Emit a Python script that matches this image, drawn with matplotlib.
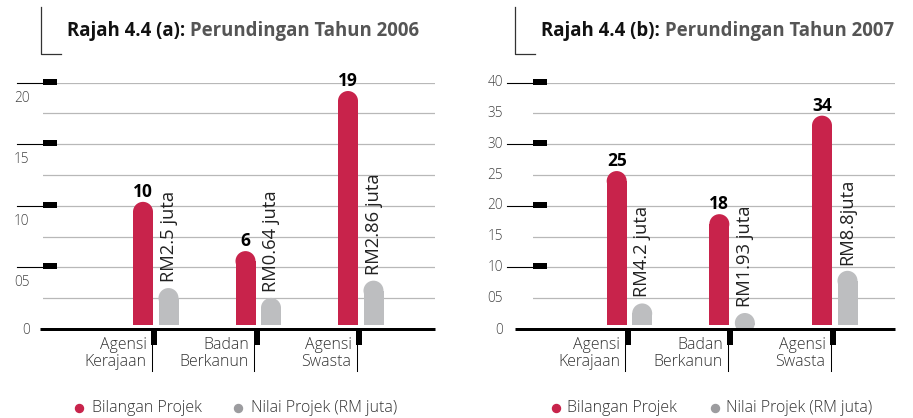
import matplotlib
matplotlib.use("Agg")
import matplotlib.pyplot as plt
from matplotlib.patches import Rectangle, Ellipse
from matplotlib.lines import Line2D
from matplotlib.transforms import ScaledTranslation, blended_transform_factory
import numpy as np

plt.rcParams['font.family'] = ['Open Sans', 'DejaVu Sans']

# ---------------- data ----------------
categories = ["Agensi\nKerajaan", "Badan\nBerkanun", "Agensi\nSwasta"]
bilangan_2006 = [10, 6, 19]
bilangan_2007 = [25, 18, 34]
nilai_bar_2006 = [3.0, 2.2, 3.6]      # grey bar heights as drawn
nilai_bar_2007 = [3.5, 1.95, 8.8]
nilai_labels_2006 = ["RM2.5 juta", "RM0.64 juta", "RM2.86 juta"]
nilai_labels_2007 = ["RM4.2 juta", "RM1.93 juta", "RM8.8juta"]
yticks_2006 = [0, 5, 10, 15, 20]
ytick_labels_2006 = ["0", "05", "10", "15", "20"]
yticks_2007 = [0, 5, 10, 15, 20, 25, 30, 35, 40]
ytick_labels_2007 = ["0", "05", "10", "15", "20", "25", "30", "35", "40"]
major_marks_2006 = [5, 10, 15, 20]
major_marks_2007 = [10, 20, 30, 40]
title_bold = ["Rajah 4.4 (a):", "Rajah 4.4 (b):"]
title_rest = ["Perundingan Tahun 2006", "Perundingan Tahun 2007"]
legend_labels = ["Bilangan Projek", "Nilai Projek (RM juta)"]

RED = "#C8234B"
GREY = "#BDBEC0"
GREY_DOT = "#9C9C9F"
TXT = "#333333"
LIGHT = 'light'

W, H = 913, 418
DPI = 100
fig = plt.figure(figsize=(W / DPI, H / DPI), dpi=DPI)


def fx(px):
    return px / W


def fy(py):
    return 1 - py / H


panels = [
    dict(x0=43, x1=435, first=143, spacing=102.5, ymax=20, gridstep=2.5,
         bil=bilangan_2006, nil=nilai_bar_2006, nlab=nilai_labels_2006,
         ticks=yticks_2006, tlabs=ytick_labels_2006, marks=major_marks_2006,
         base_left=40, lab_right=29.5, lab_shift=15.5, line_left=17,
         title_x=67, brk_x=40.7),
    dict(x0=533, x1=895, first=616.7, spacing=102.65, ymax=40, gridstep=5,
         bil=bilangan_2007, nil=nilai_bar_2007, nlab=nilai_labels_2007,
         ticks=yticks_2007, tlabs=ytick_labels_2007, marks=major_marks_2007,
         base_left=515, lab_right=503, lab_shift=0, line_left=507,
         title_x=541, brk_x=514.7),
]

YTOP, YBASE = 82.7, 329

for i, p in enumerate(panels):
    ax = fig.add_axes([fx(p['x0']), fy(YBASE), (p['x1'] - p['x0']) / W, (YBASE - YTOP) / H])
    axw = p['x1'] - p['x0']
    sp = p['spacing']
    ppy = (YBASE - YTOP) / p['ymax']
    ax.set_xlim(-(p['first'] - p['x0']) / sp, (p['x1'] - p['first']) / sp)
    ax.set_ylim(0, p['ymax'])
    ax.axis('off')
    bt = blended_transform_factory(ax.transAxes, ax.transData)

    # gridlines
    for v in np.arange(p['gridstep'], p['ymax'] + 0.01, p['gridstep']):
        ax.axhline(v, color="#B8B8B8", lw=0.9, zorder=0)

    # major marks
    for v in p['marks']:
        ax.plot([(p['line_left'] - p['x0']) / axw, 0], [v, v], transform=bt,
                color='black', lw=0.8, clip_on=False, zorder=3)
        ax.plot([0, 14 / axw], [v + 1 / ppy, v + 1 / ppy], transform=bt, color='black',
                lw=6 * 72 / DPI, solid_capstyle='butt', clip_on=False, zorder=3)

    # y labels
    for v, lab in zip(p['ticks'], p['tlabs']):
        shift = p['lab_shift'] if v != 0 else 1
        tr = bt + ScaledTranslation(0, -shift / DPI, fig.dpi_scale_trans)
        ax.text((p['lab_right'] - p['x0']) / axw, v, lab, transform=tr, ha='right',
                va='center', fontsize=9.8, color="#444444", clip_on=False,
                fontweight=LIGHT)

    # baseline
    ax.plot([(p['base_left'] - p['x0']) / axw, 1], [0, 0], transform=bt, color='black',
            lw=3 * 72 / DPI, solid_capstyle='butt', clip_on=False, zorder=4)

    bw = 20 / sp
    gap = 25.5 / sp
    bottom = 4 / ppy
    ry = 10 / ppy

    def rbar(xc, h, color):
        ax.add_patch(Rectangle((xc - bw / 2, bottom), bw, h - ry, color=color, lw=0, zorder=2))
        ax.add_patch(Ellipse((xc, bottom + h - ry), bw, 2 * ry, color=color, lw=0, zorder=2))

    for k, cat in enumerate(categories):
        xc = k
        rbar(xc, p['bil'][k], RED)
        rbar(xc + gap, p['nil'][k], GREY)
        ax.annotate(str(p['bil'][k]), xy=(xc, bottom + p['bil'][k]), xytext=(0, 5),
                    textcoords='offset pixels', ha='center', va='baseline',
                    fontsize=12.5, fontweight='bold', color='black', annotation_clip=False)
        ax.annotate(p['nlab'][k], xy=(xc + gap, bottom + p['nil'][k]), xytext=(0, 6),
                    textcoords='offset pixels', ha='center', va='bottom', rotation=90,
                    fontsize=13.2, color='#222222', annotation_clip=False)
        # tick marker below baseline
        mx = xc + 11 / sp
        ax.plot([mx, mx], [0, -16 / ppy], color='black', lw=6 * 72 / DPI,
                solid_capstyle='butt', clip_on=False, zorder=4)
        lx = xc + 8.5 / sp
        ax.plot([lx, lx], [-16 / ppy, -42 / ppy], color='black', lw=0.75,
                clip_on=False, zorder=4)
        ax.annotate(cat, xy=(lx, 0), xytext=(-5, -8), textcoords='offset pixels',
                    ha='right', va='top', fontsize=11.4, color=TXT, linespacing=1.08,
                    annotation_clip=False, fontweight=LIGHT)

    # title
    t1 = fig.text(fx(p['title_x']), fy(36), title_bold[i], fontsize=13.4,
                  fontweight='bold', color='#111111', va='baseline', ha='left')
    ax.annotate(title_rest[i], xy=(1, 0), xycoords=t1, xytext=(5, 0),
                textcoords='offset pixels', va='bottom', ha='left', fontsize=13.4,
                fontweight='bold', color='#555555', annotation_clip=False)
    bx = p['brk_x']
    fig.add_artist(Line2D([fx(bx), fx(bx), fx(bx + 20.5)], [fy(7.3), fy(54), fy(54)],
                          transform=fig.transFigure, color='#333333', lw=0.9))

    # legend
    off = 0 if i == 0 else 476.5
    for j, (col, lab) in enumerate(zip([RED, GREY_DOT], legend_labels)):
        dx = [79, 238][j] + off
        tx = [92, 251][j] + off - (1.5 if i else 0)
        fig.add_artist(Line2D([fx(dx)], [fy(408)], transform=fig.transFigure,
                              marker='o', ms=8 * 72 / DPI, color=col, lw=0))
        fig.text(fx(tx), fy(408), lab, fontsize=11.5, color=TXT, va='center', ha='left',
                 fontweight=LIGHT)

fig.savefig("out.png", dpi=DPI)
